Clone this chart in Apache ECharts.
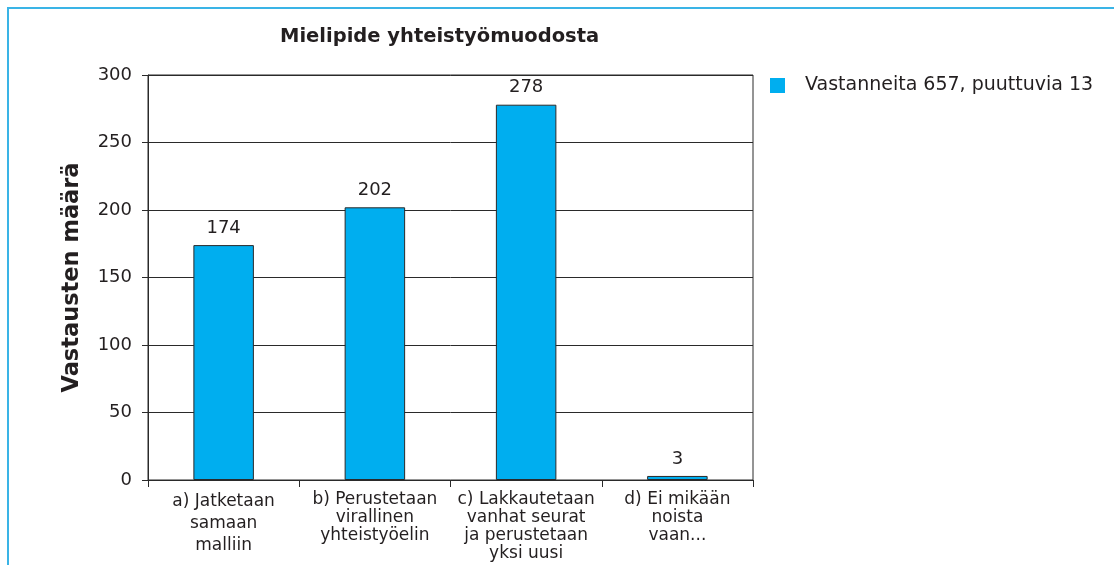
<!DOCTYPE html>
<html>
<head>
<meta charset="utf-8">
<script src="https://cdn.jsdelivr.net/npm/echarts@6/dist/echarts.min.js"></script>
<style>
  html, body { margin: 0; padding: 0; background: #fff; }
  #main { width: 1114px; height: 565px; }
</style>
</head>
<body>
<div id="main"></div>
<script>
var categories = [
  'a) Jatketaan\nsamaan\nmalliin',
  'b) Perustetaan\nvirallinen\nyhteistyöelin',
  'c) Lakkautetaan\nvanhat seurat\nja perustetaan\nyksi uusi',
  'd) Ei mikään\nnoista\nvaan...'
]
var counts = [174, 202, 278, 3]
var seriesName = 'Vastanneita 657, puuttuvia 13'
var yTicks = { min: 0, max: 300, step: 50 }

var font = 'DejaVu Sans'
var textColor = '#231f20'
var lineColor = '#2a2a2a'
var barColor = '#00aeef'
var frameColor = '#3ab4e6'

var chart = echarts.init(document.getElementById('main'))

var option = {
  animation: false,
  backgroundColor: '#fff',
  title: {
    text: 'Mielipide yhteistyömuodosta',
    left: 275,
    top: 22,
    textStyle: { fontFamily: font, fontWeight: 'bold', fontSize: 19.5, color: textColor }
  },
  legend: {
    left: 765,
    top: 71,
    itemWidth: 15,
    itemHeight: 15,
    icon: 'rect',
    itemStyle: { borderWidth: 0 },
    textStyle: { fontFamily: font, fontSize: 19, color: textColor, padding: [0, 0, 0, 15] },
    data: [seriesName]
  },
  graphic: [
    { type: 'rect', shape: { x: 7, y: 7, width: 1107, height: 2 }, style: { fill: frameColor }, silent: true },
    { type: 'rect', shape: { x: 7, y: 7, width: 2, height: 558 }, style: { fill: frameColor }, silent: true }
  ],
  grid: {
    left: 148,
    right: 361,
    top: 75,
    bottom: 85,
    show: true,
    borderColor: lineColor,
    borderWidth: 1
  },
  xAxis: {
    type: 'category',
    data: categories,
    boundaryGap: true,
    axisLine: { lineStyle: { color: lineColor, width: 1 } },
    axisTick: { show: true, length: 7, alignWithLabel: false, lineStyle: { color: lineColor } },
    axisLabel: {
      interval: 0,
      margin: 11,
      fontFamily: font,
      fontSize: 17,
      lineHeight: 18,
      color: textColor,
      align: 'center',
      formatter: function (v, i) {
        return i === 0 ? '{wide|' + v + '}' : v
      },
      rich: {
        wide: { fontFamily: font, fontSize: 17, lineHeight: 22, color: textColor, align: 'center' }
      }
    }
  },
  yAxis: {
    type: 'value',
    min: yTicks.min,
    max: yTicks.max,
    interval: yTicks.step,
    name: 'Vastausten määrä',
    nameLocation: 'middle',
    nameRotate: 90,
    nameGap: 64,
    nameTextStyle: { fontFamily: font, fontWeight: 'bold', fontSize: 22.5, color: textColor },
    axisLine: { show: true, lineStyle: { color: lineColor, width: 1 } },
    axisTick: { show: true, length: 6, lineStyle: { color: lineColor } },
    axisLabel: { margin: 16, fontFamily: font, fontSize: 18, color: textColor },
    splitLine: { show: true, lineStyle: { color: lineColor, width: 1 } }
  },
  series: [{
    name: seriesName,
    type: 'bar',
    data: counts,
    barWidth: '40%',
    itemStyle: { color: barColor, borderColor: lineColor, borderWidth: 1 },
    label: {
      show: true,
      position: 'top',
      distance: 8,
      fontFamily: font,
      fontSize: 18,
      color: textColor
    }
  }]
}

chart.setOption(option)
</script>
</body>
</html>
